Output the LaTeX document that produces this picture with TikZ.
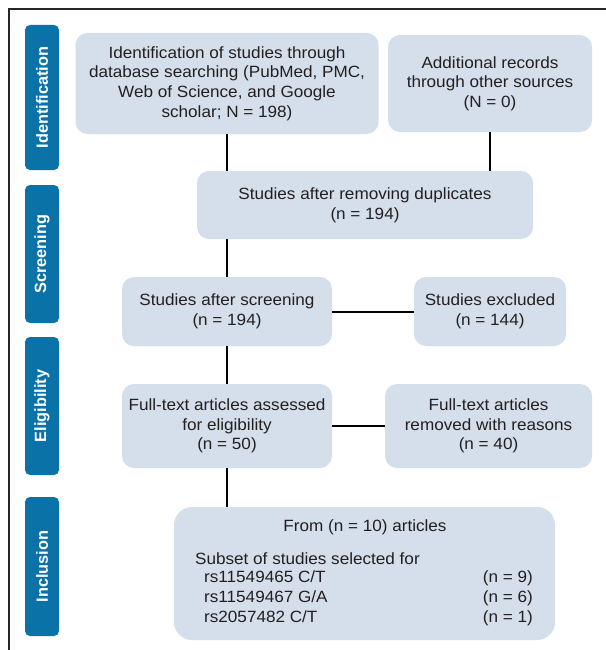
\documentclass[tikz,border=0pt]{standalone}
\usepackage{fontspec}
\setmainfont{Liberation Sans}[FakeStretch=1.05]
\newfontfamily\tabfont{Liberation Sans}
\definecolor{boxfill}{HTML}{D4DFEB}
\definecolor{tabblue}{HTML}{0A72A6}
\definecolor{textc}{HTML}{231F20}
\begin{document}
\begin{tikzpicture}[x=1pt,y=-1pt,
  box/.style={rounded corners=12pt, fill=boxfill, inner sep=0pt, align=center,
    text=textc, font=\fontsize{16.3}{19.7}\selectfont},
  tabbox/.style={rounded corners=5pt, fill=tabblue, inner sep=0pt, text=white,
    font=\tabfont\bfseries\fontsize{16.3}{18}\selectfont, rotate=90, minimum height=34pt},
  txt/.style={inner sep=0pt, text=textc, font=\fontsize{16.3}{19.7}\selectfont},
  conn/.style={line width=2pt, black}]
\useasboundingbox (0,0) rectangle (605,650);
\fill[white] (0,0) rectangle (605,650);
\draw[line width=1.3pt, black!85] (9,652) -- (9,9) -- (607,9);

% side tabs
\node[tabbox, minimum width=145pt] (t1) at (42,97.5) {Identification};
\node[tabbox, minimum width=138pt] (t2) at (42,254) {Screening};
\node[tabbox, minimum width=138pt] (t3) at (42,406) {Eligibility};
\node[tabbox, minimum width=139pt] (t4) at (42,566.5) {Inclusion};

% boxes
\node[box, minimum width=303pt, minimum height=101pt] (b1) at (227,83.5)
  {Identification of studies through\\database searching (PubMed, PMC,\\Web of Science, and Google\\scholar; N = 198)};
\node[box, minimum width=204pt, minimum height=97pt] (b2) at (490,83.5)
  {Additional records\\through other sources\\(N = 0)};
\node[box, minimum width=336pt, minimum height=68pt] (b3) at (365,205)
  {Studies after removing duplicates\\(n = 194)};
\node[box, minimum width=210pt, minimum height=69pt] (b4) at (227,311.5)
  {Studies after screening\\(n = 194)};
\node[box, minimum width=152pt, minimum height=69pt] (b5) at (490,311.5)
  {Studies excluded\\(n = 144)};
\node[box, minimum width=210pt, minimum height=84pt] (b6) at (227,426)
  {Full-text articles assessed\\for eligibility\\(n = 50)};
\node[box, minimum width=207pt, minimum height=84pt] (b7) at (488.5,426)
  {Full-text articles\\removed with reasons\\(n = 40)};
\node[box, rounded corners=18pt, minimum width=381pt, minimum height=133pt] (b8) at (364.5,573.5) {};

% inclusion box texts
\node[txt] (f1) at (365,527) {From (n = 10) articles};
\node[txt, anchor=mid west] (s0) at (195,562) {Subset of studies selected for};
\node[txt, anchor=mid west] (s1) at (204,580) {rs11549465 C/T};
\node[txt, anchor=mid west] (s2) at (204,600) {rs11549467 G/A};
\node[txt, anchor=mid west] (s3) at (204,620) {rs2057482 C/T};
\node[txt, anchor=mid east] (n1) at (533,580) {(n = 9)};
\node[txt, anchor=mid east] (n2) at (533,600) {(n = 6)};
\node[txt, anchor=mid east] (n3) at (533,620) {(n = 1)};

% connectors
\draw[conn] (b1.south) -- (b1.south |- b3.north);
\draw[conn] (b2.south) -- (b2.south |- b3.north);
\draw[conn] (b4.north |- b3.south) -- (b4.north);
\draw[conn] (b4.east) -- (b5.west);
\draw[conn] (b4.south) -- (b6.north);
\draw[conn] (b6.east) -- (b7.west);
\draw[conn] (b6.south) -- (b6.south |- b8.north);
\end{tikzpicture}
\end{document}
